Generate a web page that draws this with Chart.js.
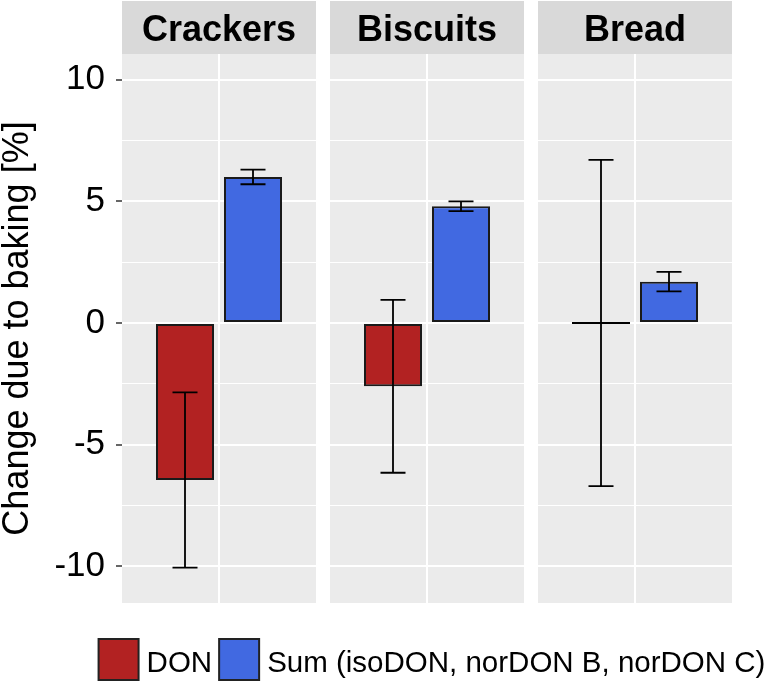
<!DOCTYPE html>
<html>
<head>
<meta charset="utf-8">
<script src="https://cdn.jsdelivr.net/npm/chart.js@4.4.1/dist/chart.umd.min.js"></script>
<style>
  html, body { margin: 0; padding: 0; background: #fff; }
</style>
</head>
<body>
<canvas id="bakingChart" width="768" height="683"></canvas>
<script>
const categories = ['Crackers', 'Biscuits', 'Bread'];
const seriesLabels = ['DON', 'Sum (isoDON, norDON B, norDON C)'];
const donValues = [-6.45, -2.6, 0];
const donErrors = [3.6, 3.55, 6.7];
const sumValues = [6.0, 4.8, 1.7];
const sumErrors = [0.3, 0.2, 0.4];
const yTicks = [-10, -5, 0, 5, 10];

const FONT = "'Liberation Sans', Arial, sans-serif";
const PANEL_HALF = 97 / 208;   // half width of one facet panel, in x units

const toPoints = vals => vals.map((v, i) => ({ x: i + 1, y: v }));

// panel backgrounds + grey strips with the facet names
const facetPlugin = {
  id: 'facets',
  beforeDraw(chart) {
    const { ctx, chartArea, scales: { x } } = chart;
    ctx.save();
    ctx.fillStyle = '#fff';
    ctx.fillRect(0, 0, chart.width, chart.height);
    categories.forEach((name, i) => {
      const left = x.getPixelForValue(i + 1 - PANEL_HALF);
      const right = x.getPixelForValue(i + 1 + PANEL_HALF);
      ctx.fillStyle = '#EBEBEB';
      ctx.fillRect(left, chartArea.top, right - left, chartArea.bottom - chartArea.top);
      ctx.fillStyle = '#D9D9D9';
      ctx.fillRect(left, chartArea.top - 53, right - left, 53);
      ctx.fillStyle = '#000';
      ctx.font = 'bold 36px ' + FONT;
      ctx.textAlign = 'center';
      ctx.textBaseline = 'alphabetic';
      ctx.fillText(name, (left + right) / 2, chartArea.top - 13);
    });
    ctx.restore();
  }
};

const errorBarPlugin = {
  id: 'errorBars',
  afterDatasetsDraw(chart) {
    const { ctx, scales: { y } } = chart;
    ctx.save();
    ctx.strokeStyle = '#000';
    chart.data.datasets.forEach((ds, di) => {
      const meta = chart.getDatasetMeta(di);
      meta.data.forEach((bar, i) => {
        const v = ds.data[i].y;
        const e = ds.errors[i];
        if (v === 0) {
          // a zero-height bar still shows its outline as a flat line
          ctx.lineWidth = 2;
          ctx.beginPath();
          ctx.moveTo(bar.x - bar.width / 2, bar.y);
          ctx.lineTo(bar.x + bar.width / 2, bar.y);
          ctx.stroke();
        }
        const top = y.getPixelForValue(v + e);
        const bottom = y.getPixelForValue(v - e);
        const cap = 12.5;
        ctx.lineWidth = 1.8;
        ctx.beginPath();
        ctx.moveTo(bar.x, top);
        ctx.lineTo(bar.x, bottom);
        ctx.moveTo(bar.x - cap, top);
        ctx.lineTo(bar.x + cap, top);
        ctx.moveTo(bar.x - cap, bottom);
        ctx.lineTo(bar.x + cap, bottom);
        ctx.stroke();
      });
    });
    ctx.restore();
  }
};

const legendPlugin = {
  id: 'bottomLegend',
  afterDraw(chart) {
    const { ctx, chartArea } = chart;
    const box = 40, gapText = 8, gapItem = 7;
    ctx.save();
    ctx.font = '29.5px ' + FONT;
    const widths = chart.data.datasets.map(ds => ctx.measureText(ds.label).width);
    const total = widths.reduce((a, w) => a + box + gapText + w, 0) + gapItem;
    let xPos = (chartArea.left + chartArea.right) / 2 + 5 - total / 2;
    const top = chartArea.bottom + 36;
    chart.data.datasets.forEach((ds, i) => {
      ctx.fillStyle = ds.backgroundColor;
      ctx.fillRect(xPos, top, box, box + 1);
      ctx.strokeStyle = '#222';
      ctx.lineWidth = 2;
      ctx.strokeRect(xPos, top, box, box + 1);
      ctx.fillStyle = '#000';
      ctx.textAlign = 'left';
      ctx.textBaseline = 'alphabetic';
      ctx.fillText(ds.label, xPos + box + gapText, top + 33);
      xPos += box + gapText + widths[i] + gapItem;
    });
    ctx.restore();
  }
};

const ctx = document.getElementById('bakingChart').getContext('2d');

new Chart(ctx, {
  type: 'bar',
  data: {
    datasets: [
      {
        label: seriesLabels[0],
        data: toPoints(donValues),
        errors: donErrors,
        backgroundColor: '#B22222',
        borderColor: '#1a1a1a',
        borderWidth: 2,
        borderSkipped: false
      },
      {
        label: seriesLabels[1],
        data: toPoints(sumValues),
        errors: sumErrors,
        backgroundColor: '#4169E1',
        borderColor: '#1a1a1a',
        borderWidth: 2,
        borderSkipped: false
      }
    ]
  },
  options: {
    responsive: false,
    animation: false,
    categoryPercentage: 136 / 208,
    barPercentage: 58 / 68,
    layout: { padding: { top: 54, right: 36, bottom: 80, left: 0 } },
    plugins: {
      legend: { display: false },
      tooltip: { enabled: false }
    },
    scales: {
      x: {
        type: 'linear',
        min: 1 - PANEL_HALF,
        max: 3 + PANEL_HALF,
        offset: false,
        ticks: { display: false, stepSize: 1, includeBounds: false },
        grid: { color: '#fff', lineWidth: 2, drawTicks: false, offset: false },
        border: { display: false },
        afterFit: s => { s.height = 0; }
      },
      y: {
        min: -11.5,
        max: 11.05,
        ticks: {
          stepSize: 2.5,
          includeBounds: false,
          autoSkip: false,
          padding: 11,
          color: '#000',
          font: { family: FONT, size: 35 },
          callback: v => yTicks.includes(v) ? v : ''
        },
        grid: {
          color: '#fff',
          lineWidth: c => yTicks.includes(c.tick.value) ? 2 : 1,
          tickLength: 6,
          tickWidth: 1.5,
          tickColor: c => yTicks.includes(c.tick.value) ? '#333' : 'rgba(0,0,0,0)'
        },
        border: { display: false },
        title: {
          display: true,
          text: 'Change due to baking [%]',
          color: '#000',
          padding: 0,
          font: { family: FONT, size: 36, lineHeight: 1.0 }
        },
        afterFit: s => { s.width = 122; }
      }
    }
  },
  plugins: [facetPlugin, errorBarPlugin, legendPlugin]
});
</script>
</body>
</html>
